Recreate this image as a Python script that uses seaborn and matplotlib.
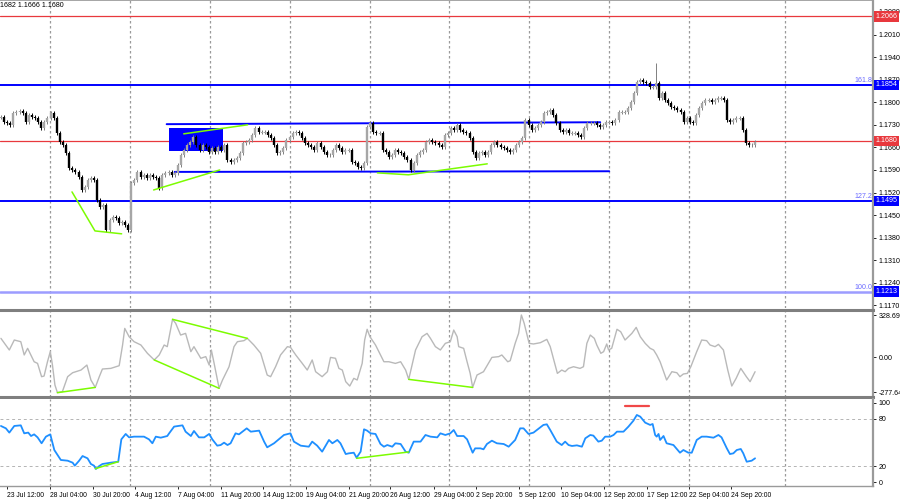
import matplotlib
matplotlib.use("Agg")
import matplotlib.pyplot as plt
import numpy as np
import pandas as pd
import seaborn as sns

# H4 closes, one value per candle
close = [
    1.1754, 1.1739, 1.1736, 1.1730, 1.1767, 1.1770, 1.1773, 1.1767, 1.1739, 1.1761,
    1.1754, 1.1751, 1.1739, 1.1720, 1.1739, 1.1751, 1.1767, 1.1751, 1.1705, 1.1677,
    1.1668, 1.1643, 1.1596, 1.1590, 1.1584, 1.1568, 1.1528, 1.1537, 1.1559, 1.1565,
    1.1559, 1.1497, 1.1475, 1.1482, 1.1404, 1.1435, 1.1444, 1.1441, 1.1426, 1.1429,
    1.1420, 1.1404, 1.1550, 1.1559, 1.1584, 1.1568, 1.1575, 1.1565, 1.1575, 1.1568,
    1.1565, 1.1534, 1.1575, 1.1581, 1.1584, 1.1575, 1.1581, 1.1606, 1.1637, 1.1652,
    1.1668, 1.1677, 1.1692, 1.1668, 1.1652, 1.1668, 1.1661, 1.1646, 1.1658, 1.1646,
    1.1661, 1.1652, 1.1668, 1.1621, 1.1615, 1.1621, 1.1627, 1.1643, 1.1674, 1.1677,
    1.1683, 1.1699, 1.1720, 1.1708, 1.1708, 1.1708, 1.1699, 1.1689, 1.1668, 1.1643,
    1.1646, 1.1658, 1.1683, 1.1692, 1.1705, 1.1708, 1.1705, 1.1689, 1.1674, 1.1668,
    1.1661, 1.1652, 1.1674, 1.1661, 1.1646, 1.1637, 1.1637, 1.1652, 1.1668, 1.1658,
    1.1646, 1.1652, 1.1652, 1.1615, 1.1612, 1.1599, 1.1596, 1.1612, 1.1723, 1.1736,
    1.1708, 1.1705, 1.1705, 1.1652, 1.1646, 1.1630, 1.1637, 1.1652, 1.1646, 1.1643,
    1.1630, 1.1621, 1.1590, 1.1612, 1.1637, 1.1646, 1.1652, 1.1677, 1.1683, 1.1677,
    1.1674, 1.1668, 1.1661, 1.1699, 1.1705, 1.1720, 1.1714, 1.1730, 1.1714, 1.1708,
    1.1705, 1.1689, 1.1646, 1.1627, 1.1643, 1.1646, 1.1637, 1.1646, 1.1668, 1.1677,
    1.1668, 1.1661, 1.1658, 1.1652, 1.1646, 1.1652, 1.1668, 1.1677, 1.1689, 1.1745,
    1.1730, 1.1714, 1.1720, 1.1730, 1.1739, 1.1767, 1.1770, 1.1776, 1.1761, 1.1736,
    1.1714, 1.1708, 1.1714, 1.1705, 1.1705, 1.1705, 1.1699, 1.1692, 1.1720, 1.1736,
    1.1736, 1.1736, 1.1730, 1.1723, 1.1730, 1.1739, 1.1739, 1.1736, 1.1745, 1.1770,
    1.1770, 1.1770, 1.1782, 1.1801, 1.1829, 1.1863, 1.1869, 1.1863, 1.1860, 1.1847,
    1.1847, 1.1860, 1.1813, 1.1829, 1.1807, 1.1798, 1.1785, 1.1782, 1.1776, 1.1770,
    1.1739, 1.1751, 1.1739, 1.1736, 1.1761, 1.1782, 1.1798, 1.1807, 1.1807, 1.1801,
    1.1807, 1.1813, 1.1813, 1.1807, 1.1745, 1.1739, 1.1745, 1.1751, 1.1751, 1.1714,
    1.1674, 1.1668, 1.1668, 1.1677,
]
spike_high = {211: 1.1922}
wick = 0.0007

level_red = [1.2066, 1.1680]
level_blue = [1.1854, 1.1495]
level_light = [1.1213]
fib_names = ["161.8", "127.2", "100.0"]
fib_prices = [1.1854, 1.1495, 1.1213]
price_ticks = [1.2080, 1.2010, 1.1940, 1.1870, 1.1800, 1.1730, 1.1660,
               1.1590, 1.1520, 1.1450, 1.1380, 1.1310, 1.1240, 1.1170]

# drawn objects on the price panel
box_bars = [54.1, 71.5]
box_prices = [1.1649, 1.1720]
chan_top_bars, chan_top_prices = [53.4, 193.1], [1.1732, 1.1738]
chan_bot_bars, chan_bot_prices = [56.0, 196.0], [1.1584, 1.1586]
div_price = [
    ([22.9, 30.3, 38.9], [1.1522, 1.1401, 1.1392]),
    ([49.2, 70.5], [1.1528, 1.1590]),
    ([58.9, 79.5], [1.1702, 1.1730]),
    ([121.3, 131.3, 156.7], [1.1581, 1.1575, 1.1609]),
]

cci_pts = [
    (0, 146), (2.7, 55), (4.3, 133), (6.4, 120), (7.5, 16), (8.6, 68), (10.7, -37),
    (11.8, -50), (13.1, -154), (13.9, -149), (15.0, -37), (15.9, 42), (16.6, -63),
    (17.4, -219), (18.2, -279), (19.8, -271), (21.5, -154), (23.1, -123), (25.8, -102),
    (27.7, -63), (29.0, -180), (30.4, -238), (31.7, -154), (32.7, -94), (35.4, -89),
    (38.1, -68), (39.2, 94), (39.9, 224), (41.3, 159), (42.9, 120), (45.1, 94),
    (47.2, 29), (49.4, -23), (51.0, 16), (52.6, 94), (53.6, 81), (55.3, 295),
    (56.3, 264), (57.9, 172), (59.5, 185), (61.2, 42), (62.2, 81), (64.4, -10),
    (66.0, 3), (67.1, -63), (67.8, 55), (68.7, -50), (70.3, -245), (71.4, -180),
    (73.5, -76), (75.1, 81), (76.2, 120), (78.3, 128), (79.4, 146), (81.5, 94),
    (83.7, 29), (85.8, -141), (86.9, -154), (88.5, -76), (90.1, 16), (92.3, 81),
    (93.3, 76), (95.0, 16), (97.1, -50), (98.7, -102), (100.3, -23), (101.4, -115),
    (103.5, -154), (105.2, -115), (106.2, -3), (107.8, -10), (108.9, -89), (110.0, -102),
    (111.1, -193), (112.4, -227), (113.7, -167), (114.8, -180), (116.4, -50), (117.2, 133),
    (118.0, 217), (118.9, 159), (120.7, 94), (123.4, -37), (125.0, -37), (127.1, -50),
    (128.8, -37), (130.4, -102), (131.4, -175), (133.6, 55), (135.7, 159), (137.3, 185),
    (138.4, 146), (140.0, 81), (141.6, 55), (143.2, 107), (144.8, 120), (145.9, 211),
    (147.0, 159), (147.5, 81), (149.1, 68), (150.2, -37), (151.2, -128), (152.0, -238),
    (153.4, -141), (155.5, -115), (158.2, -3), (160.4, 3), (161.4, 16), (163.3, -37),
    (164.1, -29), (165.7, 107), (166.8, 185), (167.7, 329), (168.6, 264), (170.2, 107),
    (171.6, 102), (173.8, 112), (175.9, 138), (177.0, 81), (179.3, -128), (180.7, -102),
    (181.8, -115), (182.9, -89), (184.5, -76), (186.6, -89), (187.7, -76), (188.8, 107),
    (189.9, 172), (191.2, 146), (192.0, 94), (193.3, 29), (194.2, 42), (195.2, 102),
    (195.8, 55), (196.8, 68), (198.5, 217), (199.7, 198), (201.1, 133), (203.3, 185),
    (204.7, 232), (206.0, 159), (207.6, 107), (209.2, 68), (210.3, 55), (211.3, 16),
    (212.4, -37), (214.5, -180), (216.2, -115), (217.8, -123), (218.8, -154), (219.9, -133),
    (221.2, -128), (222.3, -76), (224.2, 42), (225.8, 133), (227.4, 128), (228.5, 94),
    (230.1, 81), (231.2, 99), (232.8, 55), (234.2, -102), (235.5, -227), (236.9, -167),
    (238.4, -89), (240.2, -154), (241.4, -193), (243.0, -115),
]
div_cci = [
    ([18.2, 30.4], [-279, -238]),
    ([49.4, 70.3], [-23, -245]),
    ([55.3, 79.4], [295, 146]),
    ([131.4, 152.0], [-175, -238]),
]
cci_ticks = [328.6976, 0.0, -277.6449]
cci_labels = ["328.6976", "0.00", "-277.6449"]

rsi_pts = [
    (0, 70.9), (1.6, 67.9), (2.7, 62.5), (4.3, 70.9), (6.4, 71.7), (7.5, 61.6), (8.8, 62.5),
    (9.7, 58.2), (10.7, 60.3), (11.8, 56.5), (13.1, 49.0), (14.5, 57.4), (15.9, 60.3),
    (17.2, 40.5), (19.3, 27.9), (21.5, 27.0), (23.1, 24.5), (23.8, 20.7), (25.2, 27.0),
    (26.3, 32.9), (27.9, 30.0), (29.0, 22.8), (30.0, 20.7), (30.6, 16.5), (31.7, 20.3),
    (32.7, 22.8), (35.4, 24.5), (37.8, 25.7), (38.8, 54.0), (40.2, 60.8), (41.3, 56.5),
    (42.9, 57.4), (46.1, 57.4), (47.7, 54.0), (48.8, 49.0), (49.9, 57.4), (51.5, 56.1),
    (53.6, 58.2), (54.2, 61.6), (55.8, 70.1), (58.5, 71.7), (59.5, 63.7), (61.2, 58.2),
    (62.2, 64.6), (63.8, 56.5), (65.5, 56.5), (67.1, 60.8), (68.1, 54.0), (69.7, 46.0),
    (70.8, 46.8), (71.9, 49.8), (73.0, 46.8), (74.0, 49.0), (75.6, 61.6), (76.7, 60.3),
    (79.2, 67.9), (80.5, 63.7), (83.2, 65.0), (84.8, 51.1), (85.8, 43.9), (88.0, 49.0),
    (91.2, 59.5), (93.3, 61.6), (94.4, 51.1), (96.6, 46.0), (99.2, 44.7), (100.3, 51.1),
    (101.9, 46.0), (103.5, 38.4), (105.7, 53.2), (106.8, 49.0), (108.4, 53.2), (109.4, 49.0),
    (111.1, 35.4), (112.1, 36.3), (113.7, 37.1), (114.6, 30.8), (115.9, 38.4), (117.0, 66.7),
    (118.0, 65.0), (119.1, 61.6), (120.7, 60.8), (122.3, 48.1), (123.4, 44.7), (124.5, 46.8),
    (126.1, 44.7), (127.1, 49.0), (128.8, 48.1), (130.4, 38.4), (131.4, 37.1), (133.0, 51.1),
    (135.2, 51.1), (136.8, 59.5), (138.4, 57.4), (140.6, 56.5), (141.6, 61.6), (143.2, 59.5),
    (144.8, 61.6), (145.9, 65.8), (147.0, 58.2), (149.1, 58.2), (150.2, 54.0), (151.2, 44.7),
    (152.0, 37.1), (152.8, 42.6), (154.5, 42.6), (155.5, 41.4), (156.6, 48.1), (158.2, 52.3),
    (159.8, 49.0), (162.0, 48.1), (163.6, 44.7), (165.7, 53.2), (167.3, 67.9), (168.4, 67.9),
    (170.0, 60.8), (171.6, 62.5), (172.7, 65.8), (174.8, 72.2), (175.9, 73.0), (177.0, 65.8),
    (179.1, 51.1), (180.7, 46.8), (181.8, 51.1), (182.9, 46.8), (184.0, 45.6), (185.6, 46.4),
    (187.2, 44.7), (188.3, 55.3), (189.9, 59.5), (190.9, 58.7), (192.5, 51.1), (193.6, 52.3),
    (194.7, 57.4), (196.3, 57.4), (197.4, 59.5), (198.5, 63.7), (200.6, 63.7), (202.2, 70.1),
    (203.8, 77.6), (204.9, 84.8), (206.0, 82.7), (207.6, 75.1), (209.2, 72.2), (210.0, 73.4),
    (210.8, 59.5), (211.3, 57.4), (211.9, 60.8), (212.4, 53.2), (213.5, 58.2), (214.5, 49.0),
    (216.7, 46.8), (218.8, 37.1), (219.9, 40.5), (221.5, 37.1), (222.6, 37.1), (224.2, 53.2),
    (225.8, 57.4), (227.4, 57.4), (229.6, 56.1), (231.2, 59.5), (232.2, 56.5), (233.9, 42.6),
    (234.9, 35.4), (236.0, 36.3), (237.1, 40.5), (238.4, 41.8), (239.2, 36.3), (240.3, 25.7),
    (241.9, 27.0), (243.0, 30.0),
]
div_rsi = [
    ([30.4, 37.8], [16.9, 25.7]),
    ([114.6, 131.4], [30.0, 38.0]),
]
rsi_mark_bars, rsi_mark_vals = [201.2, 208.9], [96, 96]
rsi_ticks = [100, 80, 20, 0]
rsi_levels = [80, 20]

date_ticks = [1.9, 15.8, 29.6, 43.1, 57.0, 70.8, 84.3, 98.2, 112.0, 125.5,
              139.4, 153.2, 167.0, 180.6, 194.4, 208.2, 221.8, 235.3]
date_labels = ["23 Jul 12:00", "28 Jul 04:00", "30 Jul 20:00", "4 Aug 12:00",
               "7 Aug 04:00", "11 Aug 20:00", "14 Aug 12:00", "19 Aug 04:00",
               "21 Aug 20:00", "26 Aug 12:00", "29 Aug 04:00", "2 Sep 20:00",
               "5 Sep 12:00", "10 Sep 04:00", "12 Sep 20:00", "17 Sep 12:00",
               "22 Sep 04:00", "24 Sep 20:00"]
grid_bars = [15.8, 41.5, 67.3, 93.0, 118.8, 144.5, 170.3, 196.0, 221.8, 252.7]

BLUE = "#0000ff"
RED = "#e8383d"
GREEN = "#7cfc00"
FS = 5.1

sns.set_theme(style="white")
plt.rcParams["font.family"] = ["Liberation Sans", "DejaVu Sans"]

fig = plt.figure(figsize=(9, 5), dpi=100)
ax = fig.add_axes([0, 0.384, 0.97, 0.616])
ax_cci = fig.add_axes([0, 0.206, 0.97, 0.174], sharex=ax)
ax_rsi = fig.add_axes([0, 0.028, 0.97, 0.174], sharex=ax)

# candles: open is the previous close
df = pd.DataFrame({"close": close})
df["open"] = df["close"].shift(1).fillna(df["close"])
df["high"] = df[["open", "close"]].max(axis=1) + wick
df["low"] = df[["open", "close"]].min(axis=1) - wick
for i, h in spike_high.items():
    df.loc[i, "high"] = h
up = (df["close"] >= df["open"]).to_numpy()
top = df[["open", "close"]].max(axis=1)
bot = np.minimum(df[["open", "close"]].min(axis=1), top - 0.0002)
ax.vlines(df.index, df["low"], df["high"], color=np.where(up, "#808080", "black"),
          lw=0.7, zorder=4)
ax.vlines(df.index[up], bot[up], top[up], color="#a6a6a6", lw=1.7, zorder=5, capstyle="butt")
ax.vlines(df.index[~up], bot[~up], top[~up], color="black", lw=1.7, zorder=5, capstyle="butt")

# levels
for p in level_red:
    ax.axhline(p, color=RED, lw=0.9, zorder=2)
for p in level_blue:
    ax.axhline(p, color=BLUE, lw=1.4, zorder=2)
for p in level_light:
    ax.axhline(p, color="#9c9cff", lw=1.8, zorder=2)

ytr = ax.get_yaxis_transform()
for name, p in zip(fib_names, fib_prices):
    ax.text(0.999, p + 0.0003, name, transform=ytr, ha="right", va="bottom",
            fontsize=FS, color="#6a6aff")
for p in level_red + level_blue + level_light:
    fc = RED if p in level_red else BLUE
    ax.text(1.003, p, f"{p:.4f}", transform=ytr, ha="left", va="center", fontsize=FS,
            color="white", clip_on=False, zorder=10,
            bbox=dict(boxstyle="square,pad=0.22", fc=fc, ec="none"))

# rectangle, channel and divergence lines
ax.fill_between(box_bars, box_prices[0], box_prices[1], color=BLUE, lw=0, zorder=3)
ax.plot(chan_top_bars, chan_top_prices, color=BLUE, lw=1.4, zorder=3)
ax.plot(chan_bot_bars, chan_bot_prices, color=BLUE, lw=1.4, zorder=3)
for xs, ys in div_price:
    ax.plot(xs, ys, color=GREEN, lw=1.1, zorder=6)

ax.text(0.0, 0.992, "1682 1.1666 1.1680", transform=ax.transAxes,
        ha="left", va="top", fontsize=FS, color="black")

# indicators
cci = pd.DataFrame(cci_pts, columns=["bar", "cci"])
rsi = pd.DataFrame(rsi_pts, columns=["bar", "rsi"])
sns.lineplot(data=cci, x="bar", y="cci", ax=ax_cci, color="#b9b9b9", lw=1.0, zorder=3)
sns.lineplot(data=rsi, x="bar", y="rsi", ax=ax_rsi, color="#1e8fff", lw=1.3, zorder=3)
for xs, ys in div_cci:
    ax_cci.plot(xs, ys, color=GREEN, lw=1.1, zorder=4)
for xs, ys in div_rsi:
    ax_rsi.plot(xs, ys, color=GREEN, lw=1.1, zorder=4)
ax_rsi.plot(rsi_mark_bars, rsi_mark_vals, color="#f04848", lw=1.6, zorder=4)
for lv in rsi_levels:
    ax_rsi.axhline(lv, color="#b4b4b4", lw=0.7, ls=(0, (3, 3)), zorder=1)

# vertical grid
for a in (ax, ax_cci, ax_rsi):
    for gx in grid_bars:
        a.axvline(gx, color="#9a9a9a", lw=0.9, ls=(0, (2, 2)), zorder=1)

# axes styling
ax.set_ylim(1.1162, 1.2117)
ax_cci.set_ylim(-313, 368)
ax_rsi.set_ylim(-5, 105)
ax.set_xlim(-0.3, 281.0)

ax.set_yticks(price_ticks)
ax.set_yticklabels([f"{t:.4f}" for t in price_ticks])
ax_cci.set_yticks(cci_ticks)
ax_cci.set_yticklabels(cci_labels)
ax_rsi.set_yticks(rsi_ticks)
ax_rsi.set_yticklabels([str(t) for t in rsi_ticks])

ax_rsi.set_xticks(date_ticks)
ax_rsi.set_xticklabels(date_labels)
for lab in ax_rsi.get_xticklabels():
    lab.set_ha("left")

for a in (ax, ax_cci, ax_rsi):
    a.set_xlabel("")
    a.set_ylabel("")
    a.yaxis.tick_right()
    a.tick_params(axis="y", length=2.5, width=0.6, labelsize=FS, pad=1.5,
                  color="black", labelcolor="black", right=True, left=False)
    for s in a.spines.values():
        s.set_visible(False)
    a.spines["right"].set_visible(True)
    a.spines["right"].set_color("#9a9a9a")
    a.spines["right"].set_linewidth(1.6)
    a.grid(False)

ax.tick_params(axis="x", bottom=False, labelbottom=False)
ax_cci.tick_params(axis="x", bottom=False, labelbottom=False)
ax_rsi.tick_params(axis="x", bottom=True, length=2.5, width=0.6, labelsize=4.9, pad=1.5,
                   color="black", labelcolor="black")

ax.spines["top"].set_visible(True)
ax.spines["top"].set_color("#9a9a9a")
for side in ("top", "bottom"):
    ax_cci.spines[side].set_visible(True)
    ax_cci.spines[side].set_color("#7f7f7f")
    ax_cci.spines[side].set_linewidth(2.2)
ax_rsi.spines["bottom"].set_visible(True)
ax_rsi.spines["bottom"].set_color("#9a9a9a")
ax_rsi.spines["bottom"].set_linewidth(1.0)

fig.savefig("out.png", dpi=100)
plt.close(fig)
